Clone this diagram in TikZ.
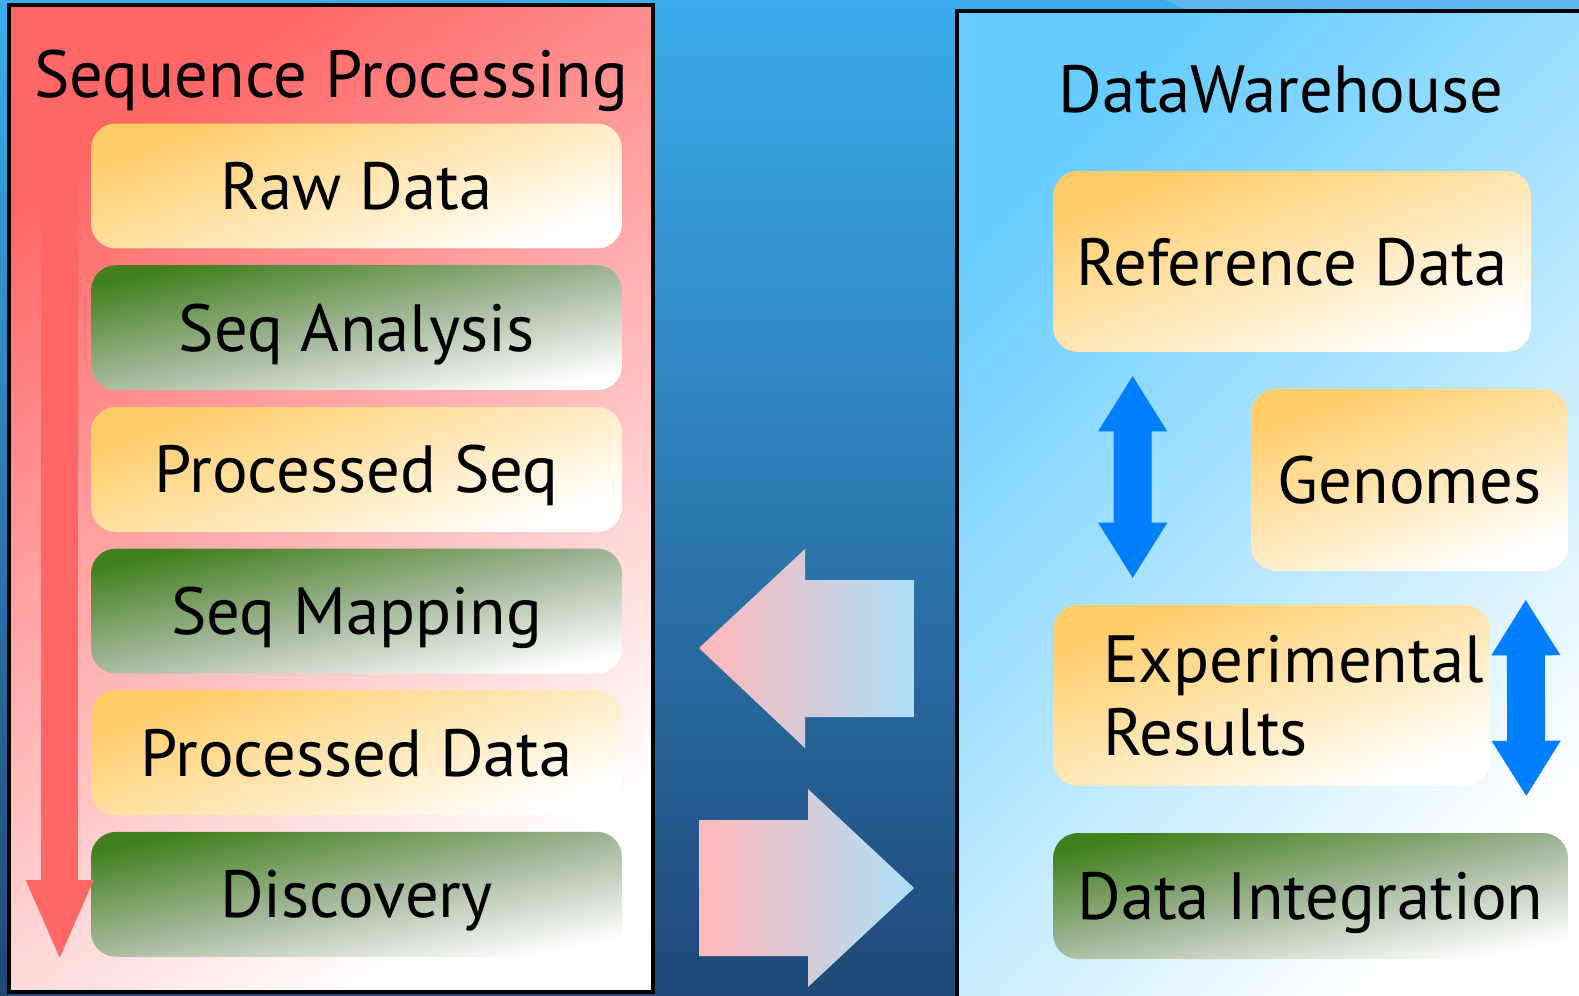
\documentclass[tikz,border=0pt]{standalone}
\usepackage{fontspec}
\setmainfont{PT Sans}
\usepackage{tikz}
\usetikzlibrary{positioning}
\usetikzlibrary{arrows.meta}
\usetikzlibrary{calc}

\definecolor{bgtop}{HTML}{3AACEC}
\definecolor{bgbot}{HTML}{1F4878}
\definecolor{bgglint}{HTML}{5CB8EE}
\definecolor{seqred}{HTML}{FF6666}
\definecolor{dwblue}{HTML}{66CCFF}
\definecolor{boxorange}{HTML}{FFCC66}
\definecolor{boxgreen}{HTML}{41801C}
\definecolor{greenmid}{HTML}{A3B79A}
\definecolor{arrpink}{HTML}{FFB8BA}
\definecolor{arrsky}{HTML}{ADDFF7}
\definecolor{linkblue}{HTML}{0080FF}

\newcommand{\dgfont}{\fontsize{38}{41.5}\selectfont}

\begin{document}
\begin{tikzpicture}[
x=0.02cm, y=-0.02cm,
seqpanel/.style={rectangle, draw=black, line width=0.08cm, top color=seqred, bottom color=white, shading angle=35},
dwpanel/.style={rectangle, draw=black, line width=0.08cm, top color=dwblue, bottom color=white, shading angle=45},
orangebox/.style={rectangle, rounded corners=0.5cm, top color=boxorange, bottom color=white, shading angle=20, minimum width=10.62cm, minimum height=2.5cm, font=\dgfont, text height=0.94cm, text depth=0pt},
greenbox/.style={orangebox, top color=boxgreen, bottom color=white, middle color=greenmid, shading angle=12},
titletext/.style={font=\dgfont, anchor=base},
seqarrow/.style={draw=seqred, line width=0.74cm, -{Triangle[width=1.22cm,length=1.62cm]}},
linkarrow/.style={draw=linkblue, line width=0.76cm, {Triangle[width=1.3cm,length=1.12cm]}-{Triangle[width=1.3cm,length=1.12cm]}},
node distance=0.32cm
]
\useasboundingbox (0,0) rectangle (1579,995);
\clip (0,0) rectangle (1579,995);

%Background
\shade[top color=bgtop, bottom color=bgbot] (0,0) rectangle (1579,995);
\fill[bgglint] (1165,0) -- (1579,0) -- (1579,11) -- (1190,11) -- cycle;

%Panels
\node[seqpanel, minimum width=12.88cm, minimum height=19.74cm] (seqproc) at (331,498.5) {};
\node[dwpanel, minimum width=12.86cm, minimum height=19.98cm] (dw) at (1278.5,510.5) {};
\node[titletext] (seqtitle) at (331,97) {Sequence Processing};
\node[titletext] (dwtitle) at (1281,112) {DataWarehouse};

%Sequence steps
\node[orangebox] (raw) at (356.5,186) {Raw Data};
\node[greenbox]  (seqan)    [below=of raw]      {Seq Analysis};
\node[orangebox] (procseq)  [below=of seqan]    {Processed Seq};
\node[greenbox]  (seqmap)   [below=of procseq]  {Seq Mapping};
\node[orangebox] (procdata) [below=of seqmap]   {Processed Data};
\node[greenbox]  (disc)     [below=of procdata] {Discovery};

%Warehouse parts
\node[orangebox, minimum width=9.56cm, minimum height=3.62cm] (refdata) at (1292,261.5) {Reference Data};
\node[orangebox, minimum width=6.34cm, minimum height=3.64cm] (genomes) at (1409.5,480) {Genomes};
\node[orangebox, minimum width=8.74cm, minimum height=3.62cm, align=left, text width=6.74cm, inner xsep=1cm, text depth=1.46cm] (exp) at (1271.5,695.5) {Experimental\\Results};
\node[greenbox, minimum width=10.3cm, minimum height=2.52cm] (dataint) at (1310.5,896) {Data Integration};

%Lines
\draw[seqarrow] ($(raw.north west)+(-31,42)$) -- ($(disc.south west)+(-31,4)$);
\draw[linkarrow] ($(refdata.south west)+(80,23)$) -- ($(exp.north west)+(80,-26)$);
\draw[linkarrow] ($(genomes.south west)+(275,28)$) -- ($(dataint.north east)+(-42,-36)$);

%Exchange arrows
\shade[left color=arrpink, right color=arrsky] (699,648) -- (805,549) -- (805,580) -- (914,580) -- (914,717) -- (805,717) -- (805,748) -- cycle;
\shade[left color=arrpink, right color=arrsky] (699,820) -- (808,820) -- (808,789) -- (914,888) -- (808,987) -- (808,956) -- (699,956) -- cycle;
\end{tikzpicture}
\end{document}
